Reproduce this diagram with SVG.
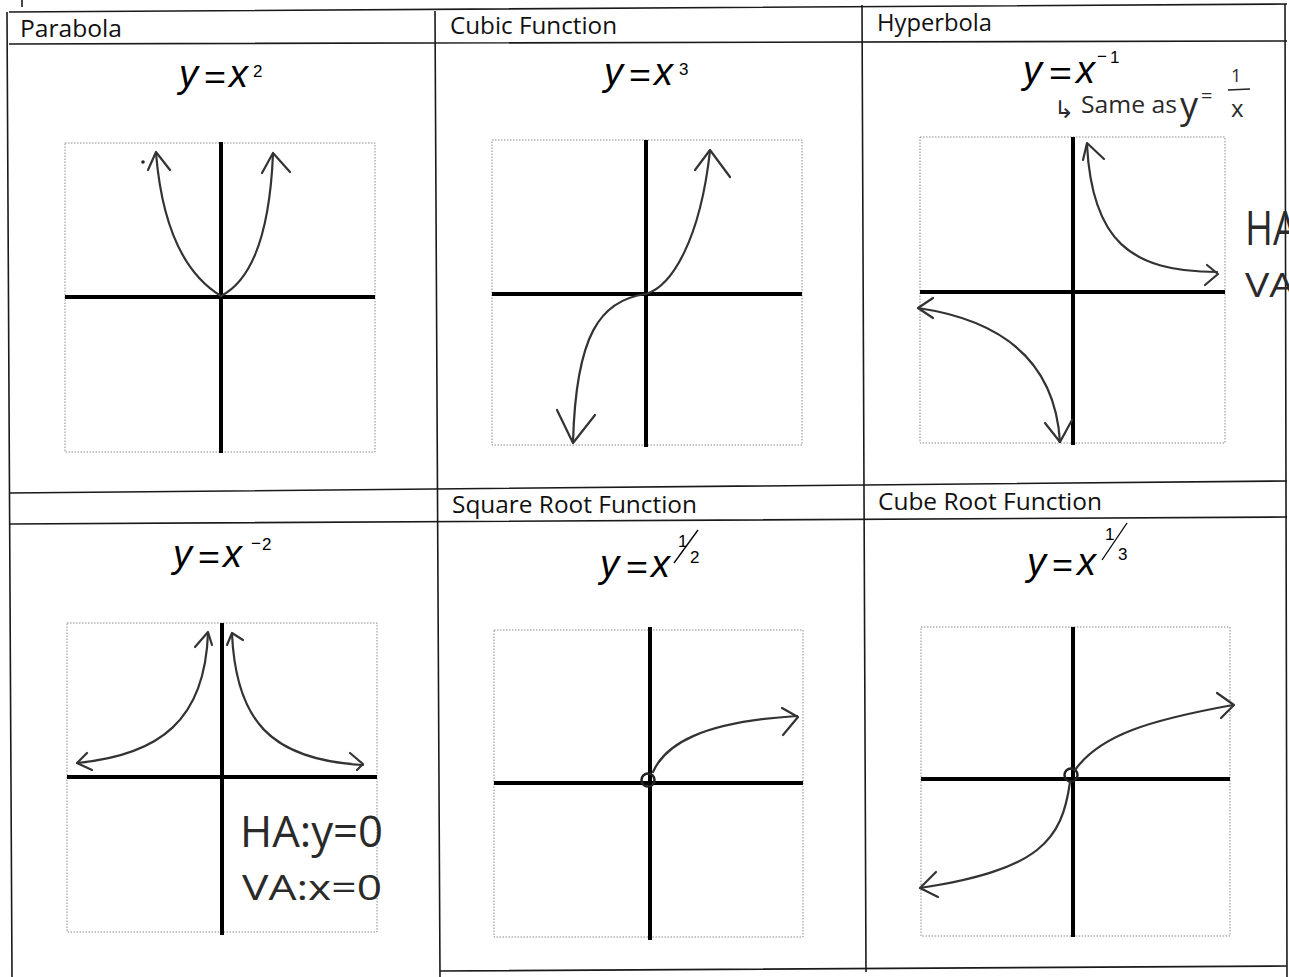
<svg xmlns="http://www.w3.org/2000/svg" width="1289" height="977" viewBox="0 0 1289 977">
<style>
.tl{stroke:#1a1a1a;stroke-width:1.6;fill:none}
.box{stroke:#8a8a8a;stroke-width:1;stroke-dasharray:1.5 1.5;fill:none}
.ax{stroke:#000;stroke-width:4;fill:none}
.cv{stroke:#333;stroke-width:2.2;fill:none;stroke-linecap:round;stroke-linejoin:round}
.hd{font-family:"Open Sans","Liberation Sans",sans-serif;font-size:23px;fill:#111}
.eq{font-family:"Liberation Sans",sans-serif;font-style:italic;font-size:38px;fill:#000}
.eqs{font-family:"Liberation Sans",sans-serif;font-size:34px;fill:#000}
.sup{font-family:"Liberation Sans",sans-serif;font-size:17px;fill:#000}
.hw{font-family:"Open Sans","DejaVu Sans",sans-serif;font-weight:400;fill:#2a2a2a}
.thin{stroke:#000;stroke-width:1.3;fill:none}
</style>
<rect width="1289" height="977" fill="#fff"/>

<g id="table">
<path class="tl" d="M9,12 L1287,4 M9,44 L1287,41 M9,493 L1287,481 M9,524 L1287,517 M440,971 L1287,966"/>
<path class="tl" d="M7,12 L12,977 M435,11 L440,977 M862,5 L866,972 M1285,4 L1287,977"/>
<path class="tl" d="M22,0 L22,7"/>
</g>

<g id="cell-parabola">
<text class="hd" x="20" y="37" textLength="102" lengthAdjust="spacingAndGlyphs">Parabola</text>
<text class="eq" x="179" y="87">y</text>
<text class="eqs" x="204" y="89" textLength="22" lengthAdjust="spacingAndGlyphs">=</text>
<text class="eq" x="229" y="87">x</text>
<text class="sup" x="253" y="77">2</text>
<g id="graph-parabola">
<rect class="box" x="65" y="143" width="310" height="309"/>
<path class="ax" d="M221,142 L221,453 M65,297 L375,297"/>
<path class="cv" d="M221,296 Q165,262 156,153"/>
<polyline class="cv" points="148,170 156,152 170,170"/>
<path class="cv" d="M221,296 Q268,272 273,154"/>
<polyline class="cv" points="262,173 273,153 290,172"/>
<circle cx="143" cy="162" r="1.8" fill="#222"/>
</g>
</g>

<g id="cell-cubic">
<text class="hd" x="450" y="34" textLength="167" lengthAdjust="spacingAndGlyphs">Cubic Function</text>
<text class="eq" x="604" y="85">y</text>
<text class="eqs" x="629" y="87" textLength="22" lengthAdjust="spacingAndGlyphs">=</text>
<text class="eq" x="654" y="85">x</text>
<text class="sup" x="679" y="75">3</text>
<g id="graph-cubic">
<rect class="box" x="492" y="140" width="310" height="305"/>
<path class="ax" d="M646,140 L646,447 M492,294 L802,294"/>
<path class="cv" d="M646,294 C672,286 700,240 710,151"/>
<polyline class="cv" points="695,170 710,150 730,177"/>
<path class="cv" d="M646,294 C600,300 576,335 573,442"/>
<polyline class="cv" points="557,410 573,443 595,415"/>
</g>
</g>

<g id="cell-hyperbola">
<text class="hd" x="877" y="31" textLength="115" lengthAdjust="spacingAndGlyphs">Hyperbola</text>
<text class="eq" x="1023" y="83">y</text>
<text class="eqs" x="1049" y="85" textLength="23" lengthAdjust="spacingAndGlyphs">=</text>
<text class="eq" x="1076" y="83">x</text>
<text class="sup" x="1097" y="62">−</text>
<text class="sup" x="1110" y="63">1</text>
<g id="note-hyperbola" class="hw">
<text x="1054" y="118" font-size="24">↳</text>
<text x="1081" y="113" font-size="24" textLength="96" lengthAdjust="spacingAndGlyphs">Same as</text>
<text x="1180" y="118" font-size="36">y</text>
<text x="1201" y="103" font-size="20">=</text>
<text x="1231" y="82" font-size="18">1</text>
<line x1="1228" y1="90" x2="1250" y2="89" stroke="#222" stroke-width="1.3"/>
<text x="1231" y="117" font-size="24">x</text>
</g>
<g id="graph-hyperbola">
<rect class="box" x="920" y="137" width="305" height="306"/>
<path class="ax" d="M1073,137 L1073,445 M920,292 L1225,292"/>
<path class="cv" d="M1087,145 C1092,240 1130,272 1217,272"/>
<polyline class="cv" points="1083,160 1087,143 1104,159"/>
<polyline class="cv" points="1207,265 1218,274 1205,285"/>
<path class="cv" d="M918,308 C1000,320 1055,360 1060,442"/>
<polyline class="cv" points="933,298 918,308 933,318"/>
<polyline class="cv" points="1045,423 1060,442 1072,420"/>
</g>
<g id="note-asymptotes" class="hw">
<text x="1245" y="245" font-size="48" textLength="52" lengthAdjust="spacingAndGlyphs">HA</text>
<text x="1245" y="297" font-size="32" textLength="50" lengthAdjust="spacingAndGlyphs">VA</text>
</g>
</g>

<g id="cell-inverse-square">
<text class="eq" x="173" y="567">y</text>
<text class="eqs" x="198" y="569" textLength="22" lengthAdjust="spacingAndGlyphs">=</text>
<text class="eq" x="223" y="567">x</text>
<text class="sup" x="251" y="549">−</text>
<text class="sup" x="262" y="550">2</text>
<g id="graph-inverse-square">
<rect class="box" x="67" y="623" width="310" height="309"/>
<path class="ax" d="M222,623 L222,935 M67,777 L377,777"/>
<path class="cv" d="M77,763 C160,755 205,720 208,633"/>
<polyline class="cv" points="87,753 77,763 92,770"/>
<polyline class="cv" points="195,647 208,632 212,645"/>
<path class="cv" d="M232,634 C236,720 270,760 363,765"/>
<polyline class="cv" points="227,645 232,633 243,640"/>
<polyline class="cv" points="350,753 363,764 357,770"/>
</g>
<g class="hw">
<text x="240" y="847" font-size="44" textLength="143" lengthAdjust="spacingAndGlyphs">HA:y=0</text>
<text x="242" y="900" font-size="34" textLength="140" lengthAdjust="spacingAndGlyphs">VA:x=0</text>
</g>
</g>

<g id="cell-square-root">
<text class="hd" x="452" y="513" textLength="245" lengthAdjust="spacingAndGlyphs">Square Root Function</text>
<text class="eq" x="600" y="577">y</text>
<text class="eqs" x="626" y="579" textLength="22" lengthAdjust="spacingAndGlyphs">=</text>
<text class="eq" x="651" y="577">x</text>
<text class="sup" x="678" y="547">1</text>
<line class="thin" x1="674" y1="563" x2="698" y2="530"/>
<text class="sup" x="690" y="563">2</text>
<g id="graph-square-root">
<rect class="box" x="494" y="630" width="309" height="307"/>
<path class="ax" d="M650,627 L650,940 M494,783 L803,783"/>
<circle cx="648" cy="780" r="6.5" fill="none" stroke="#222" stroke-width="2.5"/>
<path class="cv" d="M653,772 C665,745 700,722 797,716"/>
<polyline class="cv" points="782,708 798,717 783,735"/>
</g>
</g>

<g id="cell-cube-root">
<text class="hd" x="878" y="510" textLength="224" lengthAdjust="spacingAndGlyphs">Cube Root Function</text>
<text class="eq" x="1027" y="575">y</text>
<text class="eqs" x="1052" y="577" textLength="21" lengthAdjust="spacingAndGlyphs">=</text>
<text class="eq" x="1077" y="575">x</text>
<text class="sup" x="1105" y="540">1</text>
<line class="thin" x1="1102" y1="560" x2="1127" y2="523"/>
<text class="sup" x="1118" y="560">3</text>
<g id="graph-cube-root">
<rect class="box" x="921" y="627" width="309" height="309"/>
<path class="ax" d="M1073,627 L1073,937 M921,779 L1230,779"/>
<circle cx="1071" cy="775" r="6.5" fill="none" stroke="#222" stroke-width="2.5"/>
<path class="cv" d="M1075,770 C1100,735 1150,720 1233,705"/>
<polyline class="cv" points="1217,693 1234,705 1221,718"/>
<path class="cv" d="M1070,782 C1062,840 1040,870 920,888"/>
<polyline class="cv" points="936,872 920,888 938,897"/>
</g>
</g>
</svg>
